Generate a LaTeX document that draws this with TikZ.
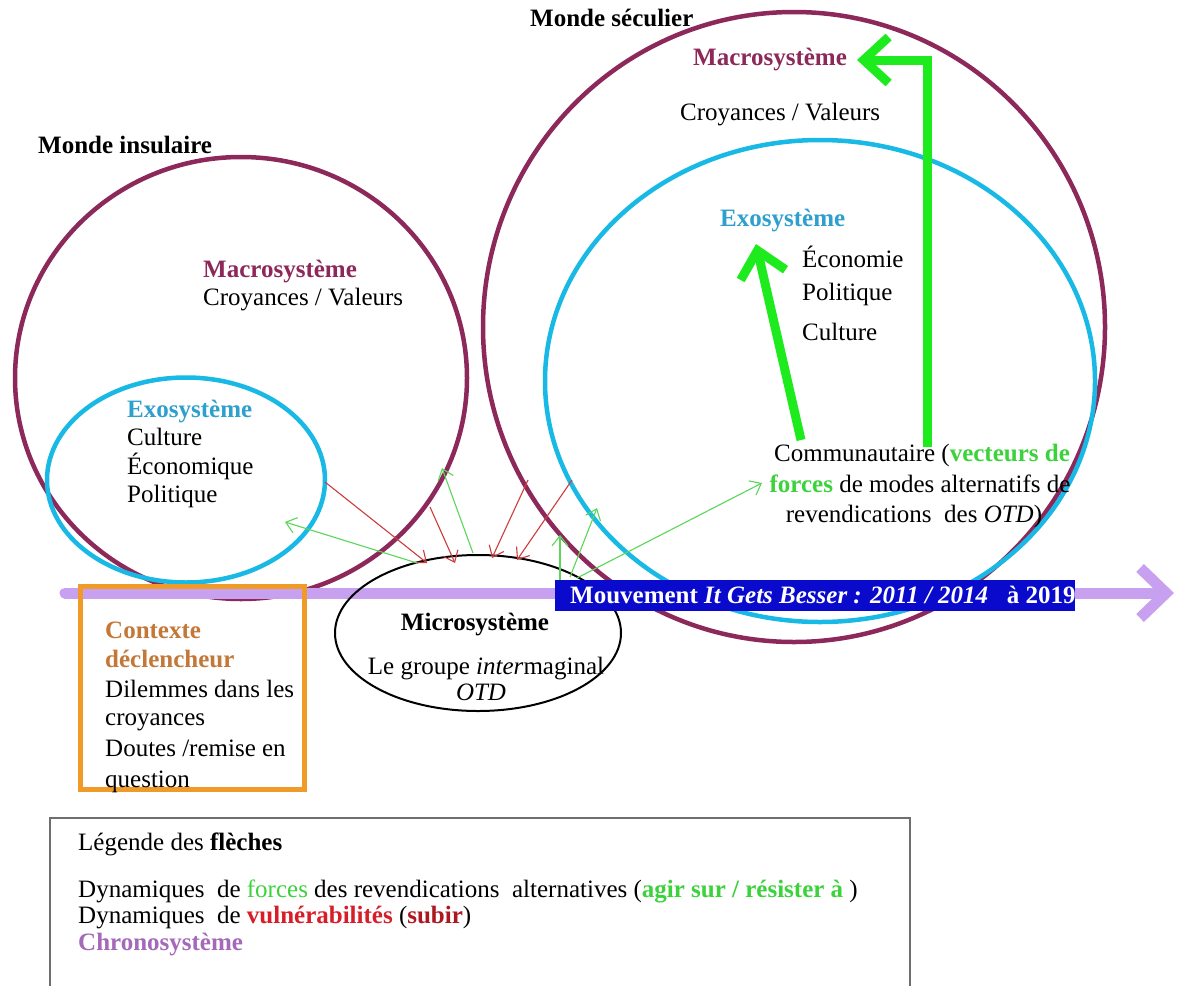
\documentclass[tikz,border=0pt]{standalone}
\usepackage{fontspec}
\setmainfont{Liberation Serif}
\usetikzlibrary{arrows.meta,shapes.geometric}

\definecolor{macro}{RGB}{140,40,90}
\definecolor{exo}{RGB}{25,185,230}
\definecolor{exotext}{RGB}{45,160,205}
\definecolor{greenthick}{RGB}{30,235,30}
\definecolor{greenthin}{RGB}{90,215,90}
\definecolor{redthin}{RGB}{205,60,60}
\definecolor{chrono}{RGB}{200,160,240}
\definecolor{chronotext}{RGB}{165,105,185}
\definecolor{orangebox}{RGB}{240,155,40}
\definecolor{orangetext}{RGB}{195,120,55}
\definecolor{labelblue}{RGB}{10,10,205}
\definecolor{legendgray}{RGB}{110,110,110}
\definecolor{forcegreen}{RGB}{60,210,60}
\definecolor{vulnred}{RGB}{215,30,40}

\tikzset{
  txt/.style={anchor=base west, inner sep=0pt, font=\fontsize{25}{29}\selectfont},
  ctxt/.style={anchor=base, inner sep=0pt, font=\fontsize{25}{29}\selectfont},
  sphere/.style={ellipse, draw, line width=4.5pt, inner sep=0pt},
  thinred/.style={draw=redthin, line width=1.1pt, -{Straight Barb[length=10pt,width=16pt]}},
  thingreen/.style={draw=greenthin, line width=1.1pt, -{Straight Barb[length=10pt,width=16pt]}},
  bigarrow/.style={draw=greenthick, line width=9pt, -{Straight Barb[length=25pt,width=46pt]}},
}

\begin{document}
\begin{tikzpicture}[x=1pt,y=-1pt]
\useasboundingbox[fill=white] (0,0) rectangle (1177,985);

% --- nested systems ---
\node[sphere, draw=macro, minimum width=452pt, minimum height=442pt] (leftMacro) at (241,378) {};
\node[sphere, draw=exo, minimum width=278pt, minimum height=205pt] (leftExo) at (186,480) {};
\node[sphere, draw=macro, minimum width=622pt, minimum height=630pt] (rightMacro) at (794,327) {};
\node[sphere, draw=exo, minimum width=550pt, minimum height=482pt] (rightExo) at (820,381) {};

% --- chronosystem axis ---
\coordinate (chronoStart) at (65,593);
\coordinate (chronoEnd) at (1174,593);
\draw[draw=chrono, line width=11pt, line cap=round, -{Straight Barb[length=26pt,width=50pt]}] (chronoStart) -- (chronoEnd);

% --- microsystem ---
\node[ellipse, draw, line width=2pt, minimum width=286pt, minimum height=156pt, inner sep=0pt] (micro) at (478,633) {};
\node[ctxt, font=\fontsize{25}{29}\selectfont\bfseries] (microTitle) at (475,630) {Microsystème};
\node[ctxt] (microGroup) at (486,674) {Le groupe \textit{inter}maginal};
\node[ctxt] (microOTD) at (481,700) {\textit{OTD}};

% --- titles of the two worlds ---
\node[txt, font=\fontsize{25}{29}\selectfont\bfseries] (mondeS) at (530,27) {Monde séculier};
\node[txt, font=\fontsize{25}{29}\selectfont\bfseries] (mondeI) at (38,153) {Monde insulaire};

% --- insular world ---
\node[txt, text=macro, font=\fontsize{25}{29}\selectfont\bfseries] (lMacroT) at (203,277) {Macrosystème};
\node[txt] (lCroy) at (203,305) {Croyances / Valeurs};
\node[txt, text=exotext, font=\fontsize{25}{29}\selectfont\bfseries] (lExoT) at (127,417) {Exosystème};
\node[txt] (lCult) at (127,445) {Culture};
\node[txt] (lEco) at (127,474) {Économique};
\node[txt] (lPol) at (127,502) {Politique};

% --- secular world ---
\node[txt, text=macro, font=\fontsize{25}{29}\selectfont\bfseries] (rMacroT) at (693,65) {Macrosystème};
\node[txt] (rCroy) at (680,120) {Croyances / Valeurs};
\node[txt, text=exotext, font=\fontsize{25}{29}\selectfont\bfseries] (rExoT) at (720,226) {Exosystème};
\node[txt] (rEco) at (802,267) {Économie};
\node[txt] (rPol) at (802,300) {Politique};
\node[txt] (rCult) at (802,340) {Culture};

\node[ctxt] (comm1) at (922,461) {Communautaire (\textcolor{forcegreen}{\textbf{vecteurs de}}};
\node[ctxt] (comm2) at (920,492) {\textcolor{forcegreen}{\textbf{forces}} de modes alternatifs de};
\node[ctxt] (comm3) at (914,522) {revendications\ \ des \textit{OTD})};

% --- community force vectors ---
\coordinate (upA) at (927,447);
\coordinate (tipA) at (857,60);
\draw[bigarrow] (upA) |- (tipA);
\coordinate (upB) at (801,440);
\coordinate (tipB) at (756,244);
\draw[bigarrow] (upB) -- (tipB);

% --- vulnerabilities (red) and forces (green) around the microsystem ---
\coordinate (r1a) at (325,482); \coordinate (r1b) at (427,563);
\coordinate (r2a) at (430,507); \coordinate (r2b) at (455,563);
\coordinate (r3a) at (528,480); \coordinate (r3b) at (492,558);
\coordinate (r4a) at (572,480); \coordinate (r4b) at (517,560);
\draw[thinred] (r1a) -- (r1b);
\draw[thinred] (r2a) -- (r2b);
\draw[thinred] (r3a) -- (r3b);
\draw[thinred] (r4a) -- (r4b);

\coordinate (g1a) at (417,563); \coordinate (g1b) at (285,522);
\coordinate (g2a) at (473,553); \coordinate (g2b) at (442,468);
\coordinate (g3a) at (560,580); \coordinate (g3b) at (560,535);
\coordinate (g4a) at (570,577); \coordinate (g4b) at (597,508);
\coordinate (g5a) at (577,578); \coordinate (g5b) at (762,483);
\draw[thingreen] (g1a) -- (g1b);
\draw[thingreen] (g2a) -- (g2b);
\draw[thingreen] (g3a) -- (g3b);
\draw[thingreen] (g4a) -- (g4b);
\draw[thingreen] (g5a) -- (g5b);

% --- movement label on the time axis ---
\node[fill=labelblue, minimum width=520pt, minimum height=31pt, inner sep=0pt, anchor=west] (mvtBox) at (555,595) {};
\node[txt, text=white, font=\fontsize{25}{29}\selectfont\bfseries] (mvtText) at (570,603)
  {Mouvement \textit{It Gets Besser : 2011 / 2014}\ \ \ à 2019};

% --- triggering context ---
\node[draw=orangebox, line width=4.5pt, minimum width=224pt, minimum height=203pt, inner sep=0pt, anchor=north west] (ctxBox) at (78,584) {};
\node[txt, text=orangetext, font=\fontsize{25}{29}\selectfont\bfseries] (ctx1) at (105,638) {Contexte};
\node[txt, text=orangetext, font=\fontsize{25}{29}\selectfont\bfseries] (ctx2) at (105,667) {déclencheur};
\node[txt] (ctx3) at (105,697) {Dilemmes dans les};
\node[txt] (ctx4) at (105,725) {croyances};
\node[txt] (ctx5) at (105,756) {Doutes /remise en};
\node[txt] (ctx6) at (105,787) {question};

% --- legend ---
\draw[draw=legendgray, line width=2pt] (50,1000) |- (910,818) -- (910,1000);
\node[txt] (leg1) at (78,850) {Légende des \textbf{flèches}};
\node[txt] (leg2) at (78,897) {Dynamiques\ \ de \textcolor{forcegreen}{forces} des revendications\ \ alternatives\ (\textcolor{forcegreen}{\textbf{agir sur / résister à}} )};
\node[txt] (leg3) at (78,923) {Dynamiques\ \ de \textcolor{vulnred}{\textbf{vulnérabilités}} (\textcolor{vulnred!80!black}{\textbf{subir}})};
\node[txt, text=chronotext, font=\fontsize{25}{29}\selectfont\bfseries] (leg4) at (78,950) {Chronosystème};

\end{tikzpicture}
\end{document}
